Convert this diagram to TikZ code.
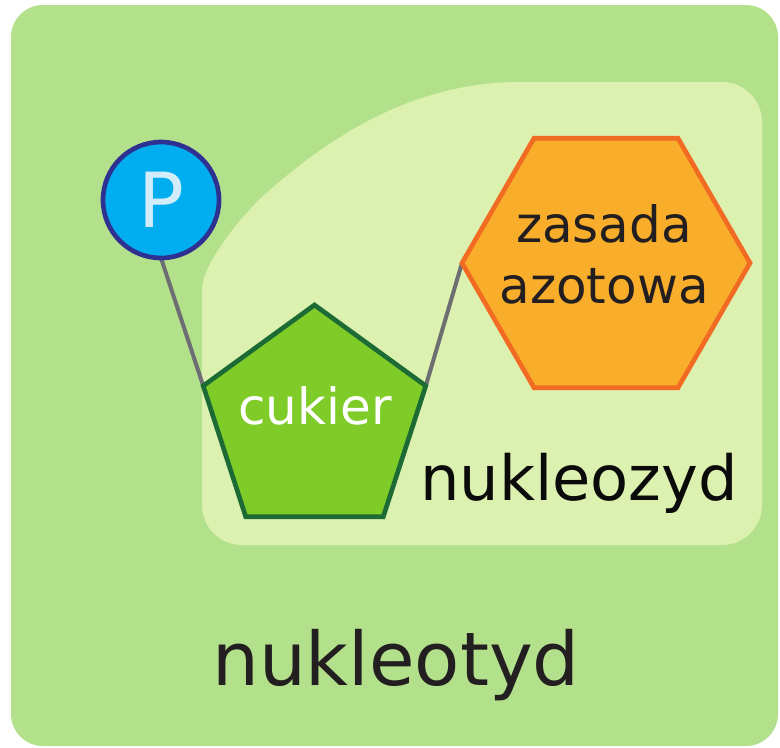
\documentclass[tikz,border=0pt]{standalone}
\usepackage{fontspec}
\setmainfont{DejaVu Sans}
\usetikzlibrary{shapes.geometric}

\definecolor{outergreen}{RGB}{179,225,139}
\definecolor{innergreen}{RGB}{220,240,175}
\definecolor{sugarfill}{RGB}{127,204,41}
\definecolor{sugardraw}{RGB}{29,107,52}
\definecolor{basefill}{RGB}{249,174,43}
\definecolor{basedraw}{RGB}{242,107,34}
\definecolor{phosfill}{RGB}{0,174,239}
\definecolor{phosdraw}{RGB}{46,49,146}
\definecolor{phostext}{RGB}{210,236,250}
\definecolor{bondgray}{RGB}{109,110,113}
\definecolor{textdark}{RGB}{35,31,32}
\definecolor{textblack}{RGB}{10,10,10}

% layers: coloured panels at the back, bonds above them, shapes on top
\pgfdeclarelayer{backdrop}
\pgfdeclarelayer{links}
\pgfsetlayers{backdrop,links,main}

\tikzset{
  shapeborder/.style={line width=3.5pt, inner sep=0pt, outer sep=0pt},
  phosphate/.style={shapeborder, circle, minimum size=87pt,
    fill=phosfill, draw=phosdraw, text=phostext, font=\fontsize{57}{57}\selectfont},
  sugar/.style={shapeborder, regular polygon, regular polygon sides=5,
    minimum size=175.5pt, fill=sugarfill, draw=sugardraw},
  nbase/.style={shapeborder, regular polygon, regular polygon sides=6,
    minimum size=216pt, fill=basefill, draw=basedraw},
  bond/.style={line width=3pt, draw=bondgray},
  lbl/.style={inner sep=0pt, anchor=base, text=textdark},
}

\begin{document}
\begin{tikzpicture}[x=0.75pt, y=-0.75pt]
  \useasboundingbox (0,0) rectangle (780,747);

  \begin{pgfonlayer}{backdrop}
    % nucleotide panel
    \fill[outergreen, rounded corners=24pt] (11,5) rectangle (778,746);
    % nucleoside panel
    \fill[innergreen, rounded corners=30pt]
      (520,82) -- (762,82) -- (762,545) -- (202,545) -- (202,330)
      [sharp corners] .. controls (202,265) and (238,220) .. (262,197)
      .. controls (336,130) and (420,82) .. (520,82) -- cycle;
  \end{pgfonlayer}

  % building blocks
  \node[phosphate] (P) at (161,200) {P};
  \node[sugar] (S) at (314.5,422) {};
  \node[nbase] (B) at (606,263) {};

  % bonds
  \begin{pgfonlayer}{links}
    \draw[bond] (P.south) -- (S.162);
    \draw[bond] (S.18) -- (B.180);
  \end{pgfonlayer}

  % labels
  \node[lbl, text=white, font=\fontsize{37.5}{37.5}\selectfont] (sugarlbl) at (315,424) {cukier};
  \node[lbl, font=\fontsize{37.5}{37.5}\selectfont] (baselbl1) at (604,242) {zasada};
  \node[lbl, font=\fontsize{37.5}{37.5}\selectfont] (baselbl2) at (604,303) {azotowa};
  \node[lbl, text=textblack, font=\fontsize{46.7}{46.7}\selectfont] (nsidelbl) at (579,500) {nukleozyd};
  \node[lbl, font=\fontsize{55.5}{55.5}\selectfont] (ntidelbl) at (396,685) {nukleotyd};
\end{tikzpicture}
\end{document}
